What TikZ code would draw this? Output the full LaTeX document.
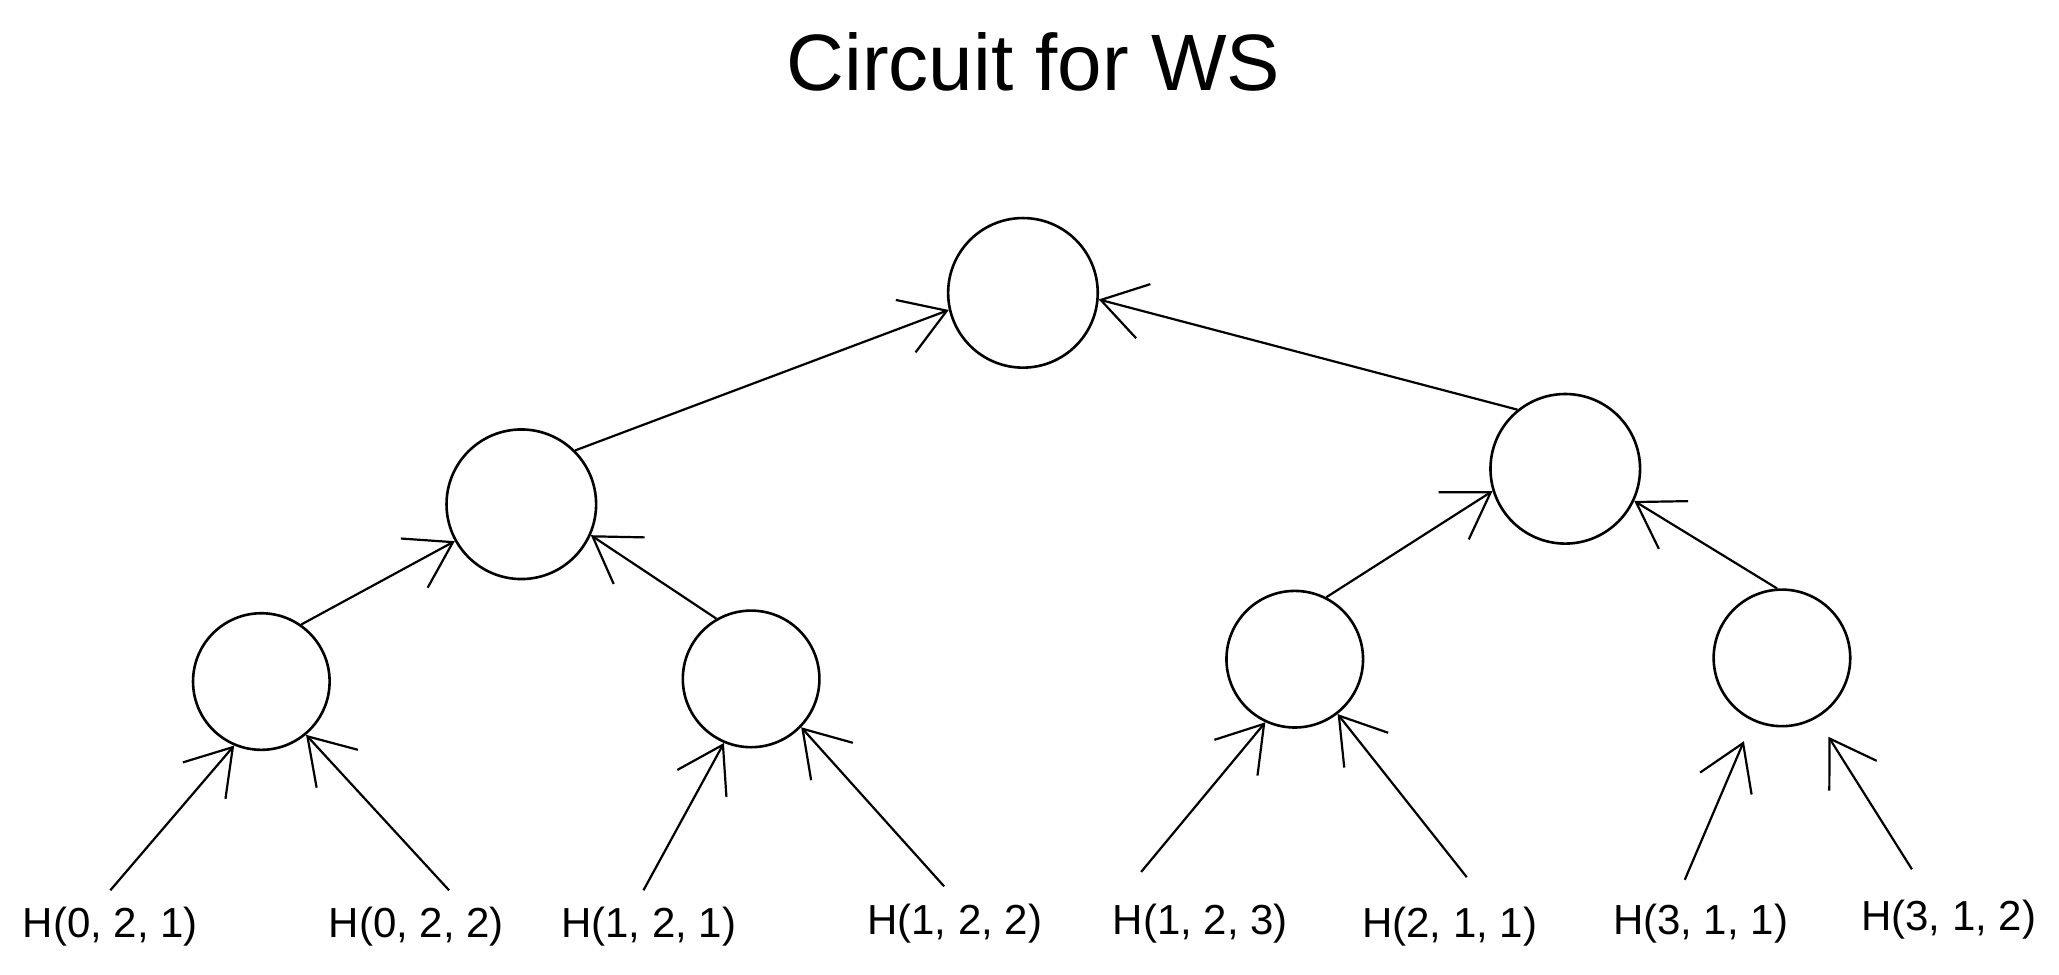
\documentclass[tikz,border=0pt]{standalone}
\usepackage{fontspec}
\setmainfont{Liberation Sans}
\usetikzlibrary{arrows.meta}
\begin{document}
\begin{tikzpicture}[x=0.6566pt,y=-0.6566pt,
  every node/.style={inner sep=0pt},
  bignode/.style={circle,draw,line width=1.3pt,minimum size=74.8pt},
  smallnode/.style={circle,draw,line width=1.3pt,minimum size=68.3pt},
  leaflabel/.style={font=\fontsize{21}{24}\selectfont,anchor=center},
  edge/.style={line width=1.1pt,-{Straight Barb[length=22pt,width=28pt,line width=1.1pt]}}]
\useasboundingbox (0,0) rectangle (1568,742);
\node[font=\fontsize{40}{46}\selectfont] (title) at (787,47) {Circuit for WS};
\node[bignode] (root) at (779,223) {};
\node[bignode] (lm) at (397,384) {};
\node[bignode] (rm) at (1192,357) {};
\node[smallnode] (ll) at (199,519) {};
\node[smallnode] (lr) at (572,517) {};
\node[smallnode] (rl) at (986,502) {};
\node[smallnode] (rr) at (1357,501) {};
\node[leaflabel] (h1) at (84,706) {H(0, 2, 1)};
\node[leaflabel] (h2) at (317,706) {H(0, 2, 2)};
\node[leaflabel] (h3) at (494,706) {H(1, 2, 1)};
\node[leaflabel] (h4) at (727,703) {H(1, 2, 2)};
\node[leaflabel] (h5) at (914,703) {H(1, 2, 3)};
\node[leaflabel] (h6) at (1104,706) {H(2, 1, 1)};
\node[leaflabel] (h7) at (1295,703) {H(3, 1, 1)};
\node[leaflabel] (h8) at (1484,700) {H(3, 1, 2)};
\coordinate (s1) at (84,678);
\coordinate (s2) at (342,678);
\coordinate (s3) at (490,678);
\coordinate (s4) at (719,675);
\coordinate (s5) at (869,664);
\coordinate (s6) at (1117,668);
\coordinate (s7) at (1283,670);
\coordinate (s8) at (1456,662);
\draw[edge] (lm.45) -- (root.193);
\draw[edge] (rm.129) -- (root.355);
\draw[edge] (ll.55) -- (lm.209);
\draw[edge] (lr.120) -- (lm.336);
\draw[edge] (rl.63) -- (rm.197);
\draw[edge] (rr.94) -- (rm.335);
\draw[edge] (s1) -- (ll.247);
\draw[edge] (s2) -- (ll.310);
\draw[edge] (s3) -- (lr.247);
\draw[edge] (s4) -- (lr.316);
\draw[edge] (s5) -- (rl.245);
\draw[edge] (s6) -- (rl.308);
\draw[edge,shorten >=11pt] (s7) -- (rr.245);
\draw[edge,shorten >=11pt] (s8) -- (rr.300);
\end{tikzpicture}
\end{document}
